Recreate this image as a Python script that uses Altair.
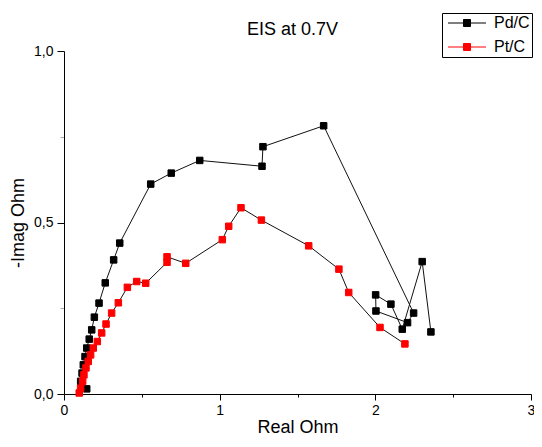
import altair as alt
import pandas as pd

# Pd/C series (Real, -Imag) in plotting order
pd_x = [0.146, 0.107, 0.116, 0.124, 0.135, 0.146, 0.162, 0.178, 0.195, 0.225,
        0.265, 0.319, 0.358, 0.557, 0.689, 0.872, 1.272, 1.278, 1.668, 2.246,
        2.207, 2.004, 2.002, 2.100, 2.173, 2.301, 2.357]
pd_y = [0.015, 0.037, 0.061, 0.085, 0.109, 0.134, 0.160, 0.187, 0.224, 0.265,
        0.324, 0.391, 0.440, 0.612, 0.644, 0.681, 0.664, 0.721, 0.782, 0.236,
        0.208, 0.242, 0.289, 0.262, 0.189, 0.386, 0.181]

# Pt/C series
pt_x = [0.098, 0.107, 0.120, 0.128, 0.141, 0.156, 0.171, 0.188, 0.214, 0.242,
        0.270, 0.306, 0.349, 0.407, 0.467, 0.525, 0.662, 0.662, 0.782, 1.017,
        1.058, 1.137, 1.268, 1.572, 1.766, 1.829, 2.030, 2.190]
pt_y = [0.003, 0.017, 0.037, 0.056, 0.076, 0.095, 0.114, 0.134, 0.153, 0.178,
        0.204, 0.236, 0.266, 0.311, 0.328, 0.323, 0.384, 0.400, 0.381, 0.450,
        0.489, 0.543, 0.507, 0.432, 0.364, 0.296, 0.194, 0.146]

series_names = ["Pd/C", "Pt/C"]
series_colors = ["#000000", "#ff0000"]
x_ticks = [0, 0.5, 1, 1.5, 2, 2.5, 3]
y_ticks = [0, 0.25, 0.5, 0.75, 1]

rows = []
for i, (a, b) in enumerate(zip(pd_x, pd_y)):
    rows.append({"series": "Pd/C", "idx": i, "re": a, "im": b})
for i, (a, b) in enumerate(zip(pt_x, pt_y)):
    rows.append({"series": "Pt/C", "idx": i, "re": a, "im": b})
df = pd.DataFrame(rows)

FONT = "Liberation Sans"

x_enc = alt.X("re:Q", scale=alt.Scale(domain=[0, 3], nice=False, zero=False),
              axis=alt.Axis(values=x_ticks,
                            labelExpr="datum.value % 1 === 0 ? format(datum.value, 'd') : ''",
                            tickSize={"condition": {"test": "datum.value % 1 !== 0", "value": 3}, "value": 6},
                            grid=False, domainColor="black", tickColor="black",
                            labelFont=FONT, labelFontSize=14, labelColor="black",
                            labelPadding=3, labelFlush=False,
                            title="Real Ohm", titleFont=FONT, titleFontSize=18,
                            titleFontWeight="normal", titleColor="black", titlePadding=1))
y_enc = alt.Y("im:Q", scale=alt.Scale(domain=[0, 1], nice=False, zero=False),
              axis=alt.Axis(values=y_ticks,
                            labelExpr="(datum.value * 4) % 2 === 0 ? replace(format(datum.value, '.1f'), '.', ',') : ''",
                            tickSize={"condition": {"test": "(datum.value * 4) % 2 !== 0", "value": 4}, "value": 7},
                            tickColor={"condition": {"test": "(datum.value * 4) % 2 !== 0", "value": "#aaaaaa"}, "value": "black"},
                            grid=False, domainColor="black",
                            labelFont=FONT, labelFontSize=14, labelColor="black",
                            labelPadding=4, labelFlush=False,
                            title="-Imag Ohm", titleFont=FONT, titleFontSize=18,
                            titleFontWeight="normal", titleColor="black", titlePadding=6))

SYMBOL = "M-0.8,0H2.3M3.7,0H6.8M2.3,-0.7H3.7V0.7H2.3Z"
leg = alt.Legend(title=None, orient="none", legendX=378, legendY=-38,
                 symbolType=SYMBOL, symbolSize=100, symbolStrokeWidth=1,
                 symbolOpacity=1, labelFont=FONT, labelFontSize=16,
                 labelColor="black", labelOffset=34, padding=2, rowPadding=8,
                 strokeColor="black", fillColor="white", cornerRadius=0)
color_scale = alt.Scale(domain=series_names, range=series_colors)

lines = alt.Chart(df).mark_line(color="#111111", strokeWidth=1).encode(
    x=x_enc, y=y_enc, detail="series:N", order="idx:Q")

points = alt.Chart(df).mark_point(filled=True, shape="square", size=42,
                                  opacity=1, strokeWidth=1).encode(
    x=x_enc, y=y_enc,
    fill=alt.Fill("series:N", scale=color_scale, legend=leg),
    stroke=alt.Stroke("series:N", scale=color_scale, legend=leg))

chart = alt.layer(lines, points).properties(
    width=467, height=343,
    title=alt.TitleParams("EIS at 0.7V", font=FONT, fontSize=18,
                          fontWeight="normal", color="black", anchor="middle",
                          dx=-5, dy=41, offset=15),
    autosize=alt.AutoSizeParams(type="none"),
    padding={"left": 56, "top": 43, "right": 3, "bottom": 41},
    background="white",
).configure_view(stroke=None)

chart.save("out.html", embed_options={"renderer": "svg", "actions": False})
